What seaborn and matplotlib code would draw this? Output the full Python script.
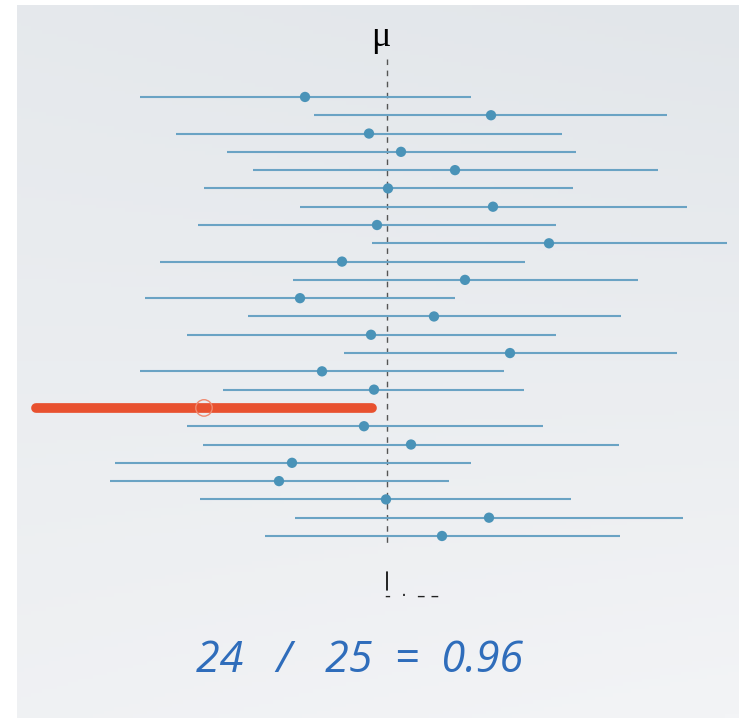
import matplotlib
matplotlib.use("Agg")
import matplotlib.pyplot as plt
import numpy as np
import pandas as pd
import seaborn as sns

# 25 confidence intervals around the true mean mu = 0
lower = [-2.47, -0.73, -2.11, -1.60, -1.34, -1.83, -0.87, -1.89, -0.15, -2.27,
         -0.94, -2.42, -1.39, -2.00, -0.43, -2.47, -1.64, -3.51, -2.00, -1.84,
         -2.72, -2.77, -1.87, -0.92, -1.22]
means = [-0.82, 1.04, -0.18, 0.14, 0.68, 0.01, 1.06, -0.10, 1.62, -0.45,
         0.78, -0.87, 0.47, -0.16, 1.23, -0.65, -0.13, -1.83, -0.23, 0.24,
         -0.95, -1.08, -0.01, 1.02, 0.55]
upper = [0.84, 2.80, 1.75, 1.89, 2.71, 1.86, 3.00, 1.69, 3.40, 1.38,
         2.51, 0.68, 2.34, 1.69, 2.90, 1.17, 1.37, -0.15, 1.56, 2.32,
         0.84, 0.62, 1.84, 2.96, 2.33]
MU = 0.0

df = pd.DataFrame({'sample': np.arange(1, len(means) + 1),
                   'lower': lower, 'mean': means, 'upper': upper})
df['covers'] = (df['lower'] <= MU) & (df['upper'] >= MU)

sns.set_theme(style="white")
plt.rcParams['font.family'] = ['DejaVu Sans']

fig = plt.figure(figsize=(7.39, 7.18), dpi=100)
fig.patch.set_facecolor('white')

# soft slide-like background gradient (darker at top, lighter at bottom)
bg = fig.add_axes([17 / 739, 0, 1 - 17 / 739, 1 - 5 / 718], zorder=-1)
gx, gy = np.meshgrid(np.linspace(0, 1, 200), np.linspace(0, 1, 200))
grad = 0.8 * gy + 0.2 * (1 - gx) * (1 - gy) + 0.2 * gx * gy
bg.imshow(grad, cmap=matplotlib.colors.LinearSegmentedColormap.from_list(
    'bg', ['#e2e6ea', '#f3f4f6']), aspect='auto', extent=[0, 1, 0, 1],
    origin='upper', vmin=0, vmax=1)
bg.axis('off')

ax = fig.add_axes([0, 0, 1, 1])
ax.set_facecolor('none')
ax.set_xlim(-3.87, 3.52)
ax.set_ylim(34.95, -4.30)
ax.axis('off')

ok = df[df['covers']]
bad = df[~df['covers']]

ax.hlines(ok['sample'], ok['lower'], ok['upper'], color='#6aa3c4', lw=1.5, zorder=2)
sns.scatterplot(data=ok, x='mean', y='sample', ax=ax, color='#4a93b8', s=55,
                edgecolor='none', zorder=3, legend=False)

ax.hlines(bad['sample'], bad['lower'], bad['upper'], color='#e8512f', lw=7,
          capstyle='round', zorder=2)
sns.scatterplot(data=bad, x='mean', y='sample', ax=ax, s=140, facecolor='none',
                edgecolor='#f08a70', linewidth=1.0, zorder=3, legend=False)

# true mean line
ax.plot([MU, MU], [-1.1, 25.5], color='#555555', lw=1, ls=(0, (4, 4)), zorder=1)
ax.plot([MU, MU], [26.97, 27.95], color='black', lw=1.2)
ax.text(MU - 0.06, -2.23, 'μ', ha='center', va='center', fontsize=26,
        color='black', family=['Liberation Serif', 'DejaVu Serif'])
ax.text(MU + 0.25, 28.3, '-  ·  – –', ha='center', va='center', fontsize=12,
        color='#222222')

n_cover = int(df['covers'].sum())
n_total = len(df)
ax.text(-0.27, 31.8, f'{n_cover}   /   {n_total}  =  {n_cover / n_total:.2f}',
        ha='center', va='center', fontsize=31, style='italic',
        color='#2f6dbb', family=['Open Sans', 'DejaVu Sans'])

fig.savefig('out.png', dpi=100, facecolor=fig.get_facecolor())
